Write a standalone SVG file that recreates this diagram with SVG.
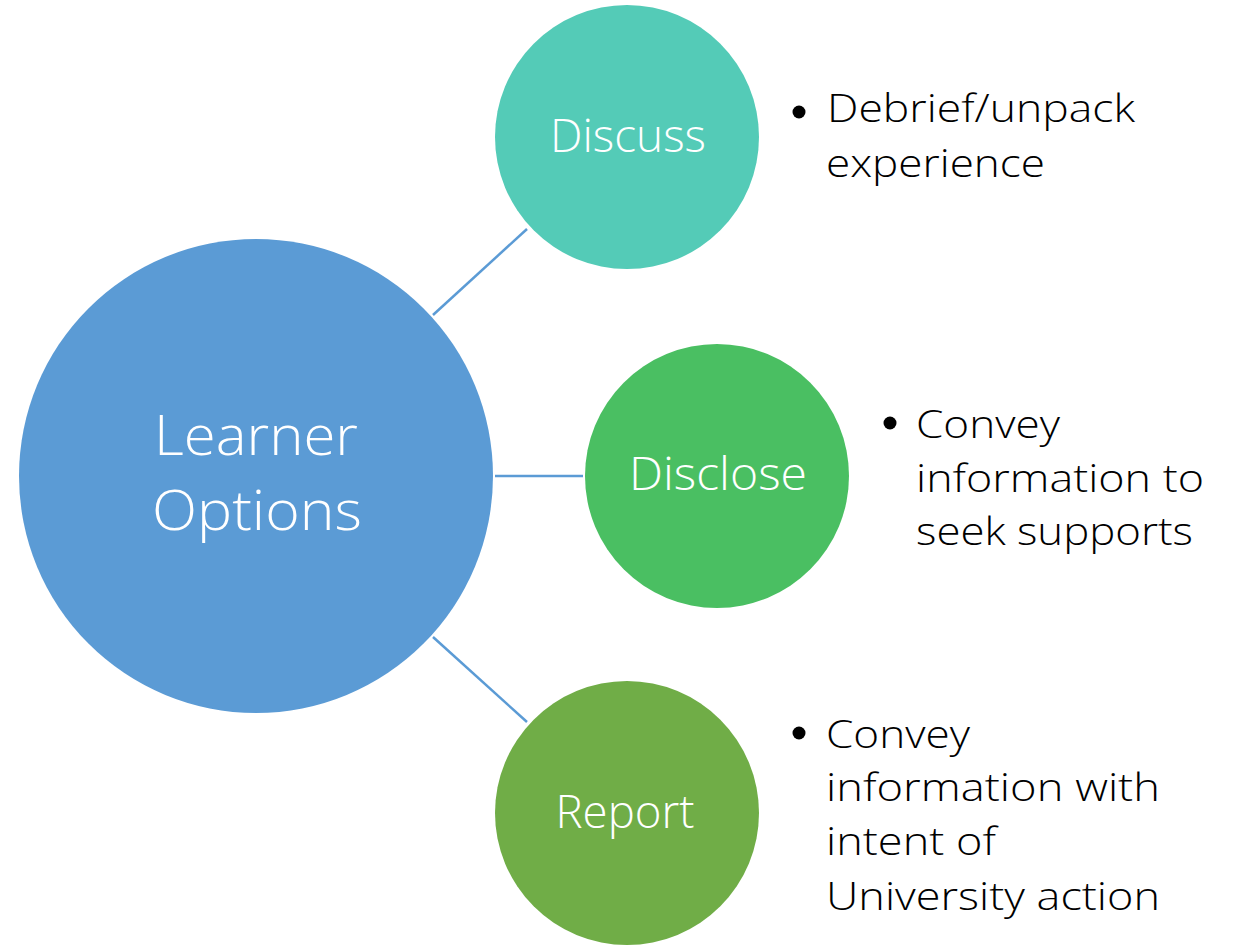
<svg xmlns="http://www.w3.org/2000/svg" width="1235" height="945" viewBox="0 0 1235 945">
<style>
.node-label{font-family:"Open Sans","Liberation Sans",sans-serif;font-weight:300;fill:#ffffff;text-anchor:middle}
.bullet-text{font-family:"Open Sans","Liberation Sans",sans-serif;font-weight:300;fill:#000000;font-size:39px}
.conn{stroke:#5B9BD5;stroke-width:2.5;fill:none}
</style>
<rect width="1235" height="945" fill="#ffffff"/>
<g id="connectors">
<line class="conn" x1="433" y1="315" x2="527" y2="229"/>
<line class="conn" x1="495" y1="476" x2="583" y2="476"/>
<line class="conn" x1="433" y1="637" x2="527" y2="722"/>
</g>
<g id="learner-options">
<circle cx="256" cy="476" r="237" fill="#5B9BD5"/>
<text class="node-label" font-size="55" x="256" y="455" textLength="204" lengthAdjust="spacingAndGlyphs">Learner</text>
<text class="node-label" font-size="55" x="257" y="530" textLength="210" lengthAdjust="spacingAndGlyphs">Options</text>
</g>
<g id="discuss">
<circle cx="627" cy="137" r="132" fill="#54CBB7"/>
<text class="node-label" font-size="46" x="628" y="152" textLength="156" lengthAdjust="spacingAndGlyphs">Discuss</text>
</g>
<g id="disclose">
<circle cx="717" cy="476" r="132" fill="#4ABF62"/>
<text class="node-label" font-size="46" x="718" y="490" textLength="178" lengthAdjust="spacingAndGlyphs">Disclose</text>
</g>
<g id="report">
<circle cx="627" cy="813" r="132" fill="#70AD47"/>
<text class="node-label" font-size="46" x="625" y="828" textLength="139" lengthAdjust="spacingAndGlyphs">Report</text>
</g>
<g id="discuss-notes">
<circle cx="799" cy="112" r="6.5" fill="#000"/>
<text class="bullet-text" x="827" y="122" textLength="308" lengthAdjust="spacingAndGlyphs">Debrief/unpack</text>
<text class="bullet-text" x="826" y="177" textLength="219" lengthAdjust="spacingAndGlyphs">experience</text>
</g>
<g id="disclose-notes">
<circle cx="890" cy="423" r="6.5" fill="#000"/>
<text class="bullet-text" x="916" y="438" textLength="144" lengthAdjust="spacingAndGlyphs">Convey</text>
<text class="bullet-text" x="916" y="492" textLength="288" lengthAdjust="spacingAndGlyphs">information to</text>
<text class="bullet-text" x="916" y="545" textLength="277" lengthAdjust="spacingAndGlyphs">seek supports</text>
</g>
<g id="report-notes">
<circle cx="799" cy="733" r="6.5" fill="#000"/>
<text class="bullet-text" x="826" y="748" textLength="144" lengthAdjust="spacingAndGlyphs">Convey</text>
<text class="bullet-text" x="826" y="801" textLength="334" lengthAdjust="spacingAndGlyphs">information with</text>
<text class="bullet-text" x="826" y="855" textLength="170" lengthAdjust="spacingAndGlyphs">intent of</text>
<text class="bullet-text" x="826" y="910" textLength="334" lengthAdjust="spacingAndGlyphs">University action</text>
</g>
</svg>
